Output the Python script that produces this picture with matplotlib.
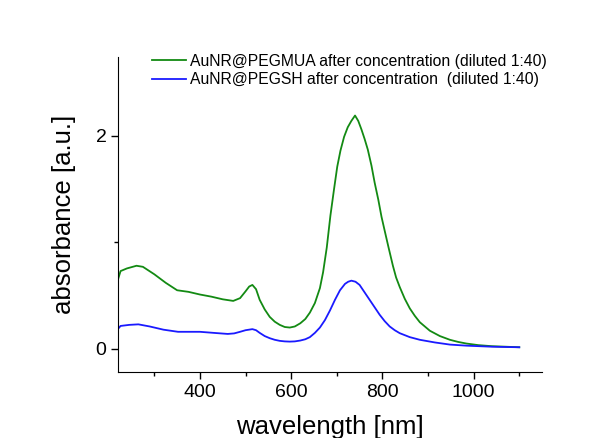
import matplotlib
matplotlib.use("Agg")
import matplotlib.pyplot as plt
from matplotlib.ticker import MultipleLocator

# values
wl_mua = [221, 226, 240, 261, 275, 300, 325, 350, 375, 400, 425, 450, 473, 488,
          500, 508, 515, 523, 531, 542, 553, 564, 575, 586, 597, 608, 620, 631,
          641, 652, 663, 670, 678, 686, 694, 701, 708, 716, 724, 732, 740, 747,
          754, 761, 768, 776, 783, 791, 798, 806, 813, 823, 830, 838, 849, 860,
          871, 882, 893, 904, 926, 948, 966, 984, 1010, 1040, 1070, 1100]
abs_mua = [0.66, 0.73, 0.755, 0.78, 0.77, 0.70, 0.62, 0.55, 0.535, 0.51, 0.49,
           0.465, 0.45, 0.476, 0.54, 0.585, 0.60, 0.56, 0.46, 0.37, 0.30, 0.255,
           0.225, 0.205, 0.20, 0.21, 0.24, 0.28, 0.34, 0.43, 0.57, 0.72, 0.95,
           1.25, 1.50, 1.71, 1.86, 1.99, 2.08, 2.14, 2.19, 2.14, 2.06, 1.97,
           1.87, 1.72, 1.56, 1.40, 1.24, 1.09, 0.96, 0.78, 0.67, 0.58, 0.47,
           0.38, 0.31, 0.25, 0.21, 0.17, 0.12, 0.085, 0.065, 0.05, 0.035,
           0.025, 0.02, 0.015]

wl_sh = [221, 226, 245, 265, 290, 320, 352, 400, 430, 461, 475, 488, 500, 515,
         523, 531, 542, 553, 564, 575, 586, 597, 608, 620, 631, 641, 652, 663,
         674, 685, 696, 707, 718, 725, 732, 741, 750, 761, 772, 783, 794, 805,
         816, 827, 838, 860, 882, 915, 948, 984, 1040, 1100]
abs_sh = [0.19, 0.215, 0.225, 0.23, 0.21, 0.18, 0.16, 0.16, 0.15, 0.14, 0.145,
          0.16, 0.175, 0.185, 0.175, 0.15, 0.12, 0.10, 0.085, 0.075, 0.07,
          0.068, 0.07, 0.078, 0.09, 0.11, 0.15, 0.20, 0.27, 0.36, 0.46, 0.55,
          0.61, 0.63, 0.64, 0.63, 0.60, 0.53, 0.46, 0.39, 0.32, 0.26, 0.21,
          0.175, 0.147, 0.11, 0.085, 0.06, 0.04, 0.03, 0.02, 0.015]

labels = ["AuNR@PEGMUA after concentration (diluted 1:40)",
          "AuNR@PEGSH after concentration  (diluted 1:40)"]

plt.rcParams["font.family"] = ["Liberation Sans", "DejaVu Sans"]

fig = plt.figure(figsize=(6.16, 4.38), dpi=100)
ax = fig.add_axes([0.192, 0.151, 0.688, 0.719])

ax.plot(wl_mua, abs_mua, color="#138a13", lw=1.3, label=labels[0])
ax.plot(wl_sh, abs_sh, color="#1a1aff", lw=1.3, label=labels[1])

ax.set_xlim(221, 1150)
ax.set_ylim(-0.216, 2.74)
ax.xaxis.set_major_locator(MultipleLocator(200))
ax.xaxis.set_minor_locator(MultipleLocator(100))
ax.yaxis.set_major_locator(MultipleLocator(2))
ax.yaxis.set_minor_locator(MultipleLocator(1))
ax.tick_params(which="major", direction="out", length=5, width=1, labelsize=14)
ax.tick_params(which="minor", direction="out", length=3, width=1)

for s in ["top", "right"]:
    ax.spines[s].set_visible(False)

ax.set_xlabel("wavelength [nm]", fontsize=18.5, labelpad=10)
ax.set_ylabel("absorbance [a.u.]", fontsize=18.5, labelpad=14)

ax.legend(loc="upper left", bbox_to_anchor=(0.0795, 1.01), frameon=False,
          fontsize=11.3, handlelength=2.2, handletextpad=0.25,
          labelspacing=0.21, borderpad=0, borderaxespad=0)

fig.savefig("out.png", dpi=100)
